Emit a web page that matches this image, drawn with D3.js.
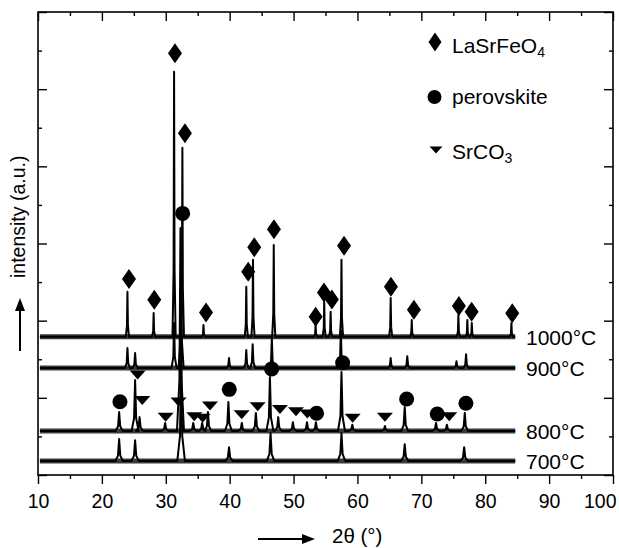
<!DOCTYPE html>
<html>
<head>
<meta charset="utf-8">
<script src="https://cdn.jsdelivr.net/npm/d3@7"></script>
<style>
  body { margin: 0; background: #fff; }
  text { font-family: "Liberation Sans", Arial, sans-serif; fill: #000; }
</style>
</head>
<body>
<svg id="chart" width="619" height="548"></svg>
<script>
// x ticks (2theta)
const xMajor = [10, 20, 30, 40, 50, 60, 70, 80, 90, 100];
const xMinor = [15, 25, 35, 45, 55, 65, 75, 85, 95];
const yMajor = [0, 200, 400, 600, 800, 1000, 1200];
const yMinor = [100, 300, 500, 700, 900, 1100];

// scan range
const scanRange = [10.3, 84.7];

// baselines of each pattern (a.u.)
const baselines = { "1000": 358, "900": 277, "800": 114, "700": 36 };

// peaks [2theta, height above baseline]
const peaks1000 = [[24.0, 117], [28.1, 62], [31.3, 687], [32.6, 490], [35.9, 31], [42.6, 130],
  [43.65, 200], [46.9, 238], [53.45, 31], [54.8, 91], [55.8, 65], [57.5, 200], [65.2, 101],
  [68.5, 44], [75.8, 57], [77.2, 44], [77.9, 36], [84.1, 36]];
const peaks900 = [[24.0, 52], [25.2, 39], [31.3, 117], [32.4, 280], [39.9, 26], [42.6, 47],
  [43.6, 62], [46.6, 78], [57.4, 98], [65.2, 26], [67.8, 31], [75.5, 18], [77.0, 36]];
const peaks800 = [[22.7, 49], [25.2, 132], [25.9, 36], [29.9, 21], [32.3, 526], [34.3, 21],
  [35.7, 21], [36.6, 49], [39.8, 75], [41.9, 21], [44.1, 47], [46.3, 140], [47.6, 36],
  [49.9, 23], [52.1, 23], [53.5, 23], [57.5, 153], [59.2, 16], [64.3, 13], [67.4, 62],
  [72.3, 21], [74.0, 16], [76.8, 47]];
const peaks700 = [[22.7, 57], [25.2, 54], [32.4, 260], [39.9, 36], [46.4, 73], [57.5, 73],
  [67.4, 44], [76.7, 36]];

// phase markers [2theta, a.u.]
const lasrfeo4 = [[24.24, 508], [28.2, 454], [31.44, 1093], [33.0, 886], [36.3, 421], [42.9, 527],
  [43.85, 590], [46.93, 637], [53.46, 410], [54.76, 473], [56.0, 455], [57.9, 594], [65.24, 488],
  [68.84, 428], [75.88, 438], [77.87, 423], [84.23, 419]];
const perovskite = [[22.83, 190], [32.64, 678], [39.94, 222], [46.57, 275], [53.6, 160],
  [57.68, 291], [67.7, 197], [72.49, 158], [76.98, 186]];
const srco3 = [[25.6, 259], [26.32, 193], [29.98, 150], [32.0, 189], [34.46, 151], [35.77, 147],
  [36.92, 179], [41.88, 156], [44.38, 177], [47.87, 170], [50.38, 164], [52.15, 158],
  [59.25, 147], [64.3, 150], [74.37, 151]];

const patterns = [
  { label: "1000°C", key: "1000", peaks: peaks1000, w: 0.25 },
  { label: "900°C", key: "900", peaks: peaks900, w: 0.4 },
  { label: "800°C", key: "800", peaks: peaks800, w: 0.55 },
  { label: "700°C", key: "700", peaks: peaks700, w: 0.6 }
];

const svg = d3.select("#chart");
const x = d3.scaleLinear().domain([10, 100]).range([38, 613]);
const y = d3.scaleLinear().domain([0, 1200]).range([475, 12]);

// axes
const axes = svg.append("g").attr("class", "axes");
function drawAxis(axis, tx, ty) {
  const g = axes.append("g").attr("transform", `translate(${tx},${ty})`).call(axis);
  g.select(".domain").remove();
  g.selectAll("line").attr("stroke", "#000").attr("stroke-width", 1.4);
  g.selectAll("text").attr("font-size", 19.5).attr("font-family", "Liberation Sans, Arial, sans-serif");
  return g;
}
const bottom = drawAxis(d3.axisBottom(x).tickValues(xMajor).tickSize(9).tickPadding(10).tickFormat(d3.format("d")), 0, 475);
drawAxis(d3.axisBottom(x).tickValues(xMinor).tickSize(4).tickFormat(""), 0, 475);
drawAxis(d3.axisTop(x).tickValues(xMajor).tickSize(-9).tickFormat(""), 0, 12);
drawAxis(d3.axisTop(x).tickValues(xMinor).tickSize(-4).tickFormat(""), 0, 12);
drawAxis(d3.axisLeft(y).tickValues(yMajor).tickSize(-9).tickFormat(""), 38, 0);
drawAxis(d3.axisLeft(y).tickValues(yMinor).tickSize(-4).tickFormat(""), 38, 0);
drawAxis(d3.axisRight(y).tickValues(yMajor).tickSize(-9).tickFormat(""), 613, 0);
drawAxis(d3.axisRight(y).tickValues(yMinor).tickSize(-4).tickFormat(""), 613, 0);
bottom.selectAll("text").attr("fill", "#000");
// last label sits inside the window like in the original
bottom.selectAll(".tick").filter(d => d === 100).select("text").attr("text-anchor", "end").attr("x", 3);

svg.append("rect")
  .attr("x", x(10)).attr("y", y(1200))
  .attr("width", x(100) - x(10)).attr("height", y(0) - y(1200))
  .attr("fill", "none").attr("stroke", "#000").attr("stroke-width", 1.6);

// patterns
const line = d3.line().x(d => x(d[0])).y(d => y(d[1]));
const plot = svg.append("g");
patterns.forEach(p => {
  const b = baselines[p.key];
  // noisy baseline band
  plot.append("path")
    .attr("d", line([[scanRange[0], b], [scanRange[1], b]]))
    .attr("stroke", "#3a3a3a").attr("stroke-width", 5).attr("fill", "none");
  const pts = [[scanRange[0], b]];
  p.peaks.forEach(([t, h]) => {
    pts.push([t - p.w, b], [t - p.w * 0.3, b + h * 0.25], [t, b + h],
      [t + p.w * 0.3, b + h * 0.25], [t + p.w, b]);
  });
  pts.push([scanRange[1], b]);
  plot.append("path")
    .attr("d", line(pts))
    .attr("stroke", "#000").attr("stroke-width", 2).attr("stroke-linejoin", "round")
    .attr("fill", "none");
  svg.append("text")
    .attr("x", 526).attr("y", y(b) + 8)
    .attr("font-size", 21)
    .text(p.label);
});

// markers
const diamond = "M0,-10L7,0L0,10L-7,0Z";
const tri = "M-8,-4.5L8,-4.5L0,4.5Z";
svg.append("g").selectAll("path").data(lasrfeo4).join("path")
  .attr("transform", d => `translate(${x(d[0])},${y(d[1])})`).attr("d", diamond);
svg.append("g").selectAll("circle").data(perovskite).join("circle")
  .attr("cx", d => x(d[0])).attr("cy", d => y(d[1])).attr("r", 7.5);
svg.append("g").selectAll("path").data(srco3).join("path")
  .attr("transform", d => `translate(${x(d[0])},${y(d[1])})`).attr("d", tri);

// legend
const legend = svg.append("g");
legend.append("path").attr("transform", "translate(435,42)").attr("d", "M0,-9.5L6.5,0L0,9.5L-6.5,0Z");
legend.append("circle").attr("cx", 434.5).attr("cy", 97).attr("r", 7);
legend.append("path").attr("transform", "translate(436,150)").attr("d", "M-6.5,-3.5L6.5,-3.5L0,3.5Z");
const l1 = legend.append("text").attr("x", 452).attr("y", 52.5).attr("font-size", 21);
l1.append("tspan").text("LaSrFeO");
l1.append("tspan").attr("font-size", 14).attr("dy", 4).text("4");
legend.append("text").attr("x", 452).attr("y", 104).attr("font-size", 21).text("perovskite");
const l3 = legend.append("text").attr("x", 452).attr("y", 159).attr("font-size", 21);
l3.append("tspan").text("SrCO");
l3.append("tspan").attr("font-size", 14).attr("dy", 4).text("3");

// axis titles with arrows
svg.append("text")
  .attr("transform", "translate(25,278) rotate(-90)")
  .attr("font-size", 19.5)
  .text("intensity (a.u.)");
svg.append("line").attr("x1", 20).attr("y1", 351).attr("x2", 20).attr("y2", 310)
  .attr("stroke", "#000").attr("stroke-width", 2);
svg.append("path").attr("d", "M20,298L15,311L25,311Z");

svg.append("line").attr("x1", 258).attr("y1", 539).attr("x2", 302).attr("y2", 539)
  .attr("stroke", "#000").attr("stroke-width", 2);
svg.append("path").attr("d", "M315,539L302,534L302,544Z");
svg.append("text").attr("x", 332).attr("y", 543).attr("font-size", 20.5).text("2θ (°)");
</script>
</body>
</html>
